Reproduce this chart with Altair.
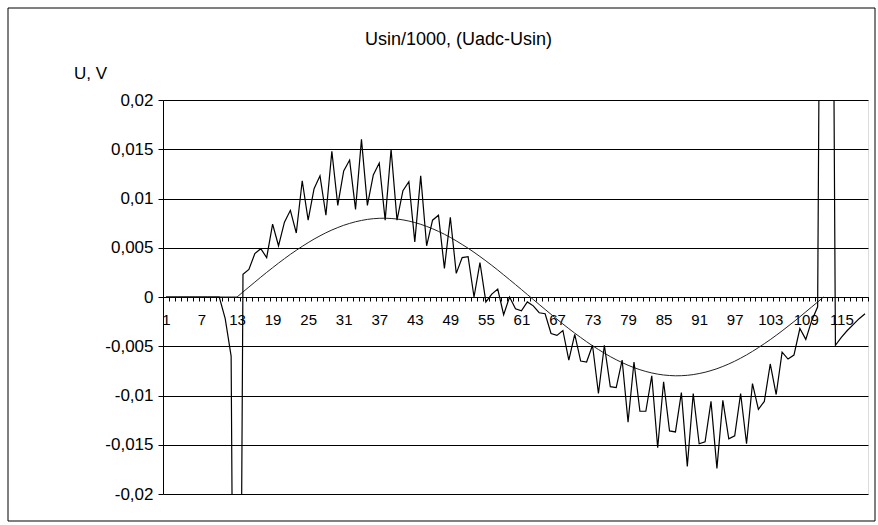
import altair as alt
import pandas as pd

# Usin/1000 (smooth sine), categories 1..112
usin_div_1000 = [
    0.0, 0.0, 0.0, 0.0, 0.0, 0.0, 0.0, 0.0, 0.0, 0.0, 0.0, 0.0, 0.0,
    0.00051, 0.00101, 0.00151, 0.00201, 0.00250, 0.00297, 0.00344, 0.00389, 0.00433, 0.00474,
    0.00514, 0.00552, 0.00588, 0.00621, 0.00652, 0.00680, 0.00705, 0.00728, 0.00747, 0.00764,
    0.00777, 0.00788, 0.00795, 0.00799, 0.00800, 0.00797, 0.00792, 0.00783, 0.00771, 0.00756,
    0.00738, 0.00717, 0.00693, 0.00666, 0.00637, 0.00605, 0.00570, 0.00533, 0.00495, 0.00454,
    0.00411, 0.00367, 0.00321, 0.00274, 0.00225, 0.00176, 0.00126, 0.00076, 0.00025, -0.00025,
    -0.00076, -0.00126, -0.00176, -0.00225, -0.00274, -0.00321, -0.00367, -0.00411, -0.00454, -0.00495,
    -0.00533, -0.00570, -0.00605, -0.00637, -0.00666, -0.00693, -0.00717, -0.00738, -0.00756, -0.00771,
    -0.00783, -0.00792, -0.00797, -0.00800, -0.00799, -0.00795, -0.00788, -0.00777, -0.00764, -0.00747,
    -0.00728, -0.00705, -0.00680, -0.00652, -0.00621, -0.00588, -0.00552, -0.00514, -0.00474, -0.00433,
    -0.00389, -0.00344, -0.00297, -0.00250, -0.00201, -0.00151, -0.00101, -0.00051, 0.0,
]

# Uadc-Usin (noisy), categories 1..119
uadc_minus_usin = [
    0.0, 0.0, 0.0, 0.0, 0.0, 0.0, 0.0, 0.0, 0.0, 0.0,
    -0.0022, -0.0060, -0.1000, 0.0023, 0.0028, 0.0044, 0.0049, 0.0040, 0.0074, 0.0052,
    0.0076, 0.0088, 0.0065, 0.0118, 0.0078, 0.0110, 0.0123, 0.0083, 0.0148, 0.0093,
    0.0128, 0.0139, 0.0089, 0.0160, 0.0093, 0.0124, 0.0136, 0.0078, 0.0150, 0.0078,
    0.0108, 0.0117, 0.0056, 0.0123, 0.0052, 0.0078, 0.0083, 0.0029, 0.0081, 0.0024,
    0.0040, 0.0041, 0.0000, 0.0035, -0.0005, 0.0003, 0.0008, -0.0018, 0.0000, -0.0012,
    -0.0014, -0.0005, -0.0009, -0.0016, -0.0017, -0.0037, -0.0039, -0.0034, -0.0064, -0.0038,
    -0.0065, -0.0066, -0.0049, -0.0098, -0.0049, -0.0091, -0.0092, -0.0064, -0.0127, -0.0066,
    -0.0116, -0.0116, -0.0080, -0.0153, -0.0086, -0.0136, -0.0137, -0.0097, -0.0172, -0.0098,
    -0.0149, -0.0147, -0.0106, -0.0174, -0.0105, -0.0144, -0.0141, -0.0098, -0.0149, -0.0088,
    -0.0114, -0.0106, -0.0068, -0.0099, -0.0056, -0.0063, -0.0059, -0.0032, -0.0043, -0.0024,
    -0.0010, 0.1000, 0.1000, -0.0049, -0.0041, -0.0034, -0.0028, -0.0022, -0.0017,
]

categories = list(range(1, 120))
y_ticks = [-0.02, -0.015, -0.01, -0.005, 0.0, 0.005, 0.01, 0.015, 0.02]

sine_df = pd.DataFrame({"n": categories[:len(usin_div_1000)], "v": usin_div_1000})
noise_df = pd.DataFrame({"n": categories[:len(uadc_minus_usin)], "v": uadc_minus_usin})

FONT = "Liberation Sans"
MINUS = "\u2212"

x_enc = alt.X(
    "n:O",
    scale=alt.Scale(type="band", domain=categories, paddingInner=0, paddingOuter=0),
    bandPosition=0.5,
    axis=alt.Axis(
        title=None,
        orient="bottom",
        offset=-197,
        tickBand="extent",
        tickSize=4,
        tickColor="black",
        tickWidth=1,
        domainColor="black",
        domainWidth=1,
        labelExpr="(datum.value - 1) % 6 == 0 ? datum.label : ''",
        labelAngle=0,
        labelFont=FONT,
        labelFontSize=15,
        labelColor="black",
        labelPadding=11,
        labelOverlap=False,
        grid=False,
    ),
)

y_enc = alt.Y(
    "v:Q",
    scale=alt.Scale(domain=[-0.02, 0.02], nice=False, zero=False),
    axis=alt.Axis(
        values=y_ticks,
        labelExpr="replace(replace(format(datum.value, '~g'), '.', ','), '" + MINUS + "', '-')",
        labelFont=FONT,
        labelFontSize=17,
        labelColor="black",
        labelPadding=5,
        tickSize=5,
        tickColor="black",
        domainColor="black",
        grid=True,
        gridColor="black",
        gridOpacity=1,
        gridWidth=1,
        title="U, V",
        titleAngle=0,
        titleX=-73,
        titleY=-27,
        titleAlign="center",
        titleBaseline="middle",
        titleFont=FONT,
        titleFontSize=17,
        titleFontWeight="normal",
        titleColor="black",
    ),
)

sine_line = alt.Chart(sine_df).mark_line(
    clip=True, color="#222222", strokeWidth=1
).encode(x=x_enc, y=y_enc)

noise_line = alt.Chart(noise_df).mark_line(
    clip=True, color="black", strokeWidth=1.2
).encode(x=x_enc, y=y_enc)

frame = alt.Chart(pd.DataFrame({"k": [0]})).mark_rect(
    fillOpacity=0, stroke="black", strokeWidth=1, clip=False
).encode(
    x=alt.value(-155), x2=alt.value(712), y=alt.value(-92), y2=alt.value(421)
)

chart = alt.layer(frame, sine_line, noise_line).properties(
    width=705,
    height=394,
    autosize=alt.AutoSizeParams(type="none"),
    padding={"left": 163, "top": 100, "right": 10, "bottom": 31},
    title=alt.Title(
        "Usin/1000, (Uadc-Usin)",
        font=FONT,
        fontSize=18,
        fontWeight="normal",
        color="black",
        anchor="middle",
        frame="group",
        dx=-57,
        offset=-41,
    ),
).configure_view(stroke="black", strokeWidth=1).configure(background="white")

chart.save("out.html", embed_options={"renderer": "svg", "actions": False})
